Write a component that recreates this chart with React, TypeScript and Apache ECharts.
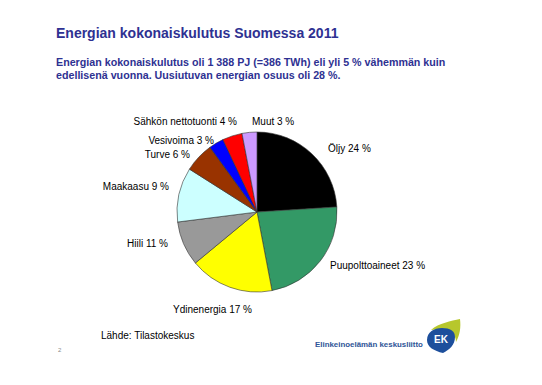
import React, { useEffect, useRef } from "react";
import * as echarts from "echarts";

const categories = [
  "Öljy",
  "Puupolttoaineet",
  "Ydinenergia",
  "Hiili",
  "Maakaasu",
  "Turve",
  "Vesivoima",
  "Sähkön nettotuonti",
  "Muut",
];
// slice sizes as drawn in the picture (%)
const values = [24, 23, 17, 9, 11, 6, 3, 4, 3];
// label percentages as printed in the picture
const labelPercents = [24, 23, 17, 11, 9, 6, 3, 4, 3];
const colors = [
  "#000000",
  "#339966",
  "#FFFF00",
  "#999999",
  "#CCFFFF",
  "#993300",
  "#0000FF",
  "#FF0000",
  "#CC99FF",
];
// label anchors [x, y, align]
const labelAnchors: [number, number, string][] = [
  [328, 148, "left"],
  [330, 265, "left"],
  [173, 309, "left"],
  [168, 243.5, "right"],
  [169, 186, "right"],
  [190, 154.5, "right"],
  [214, 140, "right"],
  [237, 121.5, "right"],
  [252, 121.5, "left"],
];

const titleText = "Energian kokonaiskulutus Suomessa 2011";
const subtitleLines = [
  "Energian kokonaiskulutus oli 1 388 PJ (=386 TWh) eli yli 5 % vähemmän kuin",
  "edellisenä vuonna. Uusiutuvan energian osuus oli 28 %.",
];
const sourceText = "Lähde: Tilastokeskus";
const pageNumber = "2";
const orgName = "Elinkeinoelämän keskusliitto";

echarts.graphic.registerShape(
  "ekGreen",
  echarts.graphic.extendPath(
    "M5,11 C13,4 25,2 34,0 C35,8 34,16 30,23 C30,14 23,8 5,11 Z",
    {}
  )
);
echarts.graphic.registerShape(
  "ekBlue",
  echarts.graphic.extendPath(
    "M1,21 C1,13 8,9 16,9 C24,9 29,12 29,18 C29,26 23,31 17,34 C8,32 1,28 1,21 Z",
    {}
  )
);

export default function App() {
  const ref = useRef<HTMLDivElement>(null);
  useEffect(() => {
    if (!ref.current) return;
    const chart = echarts.init(ref.current, undefined, { renderer: "svg" });
    const font = "Arial, 'Liberation Sans', sans-serif";
    chart.setOption({
      animation: false,
      backgroundColor: "#ffffff",
      graphic: [
        {
          type: "text",
          left: 56,
          top: 26,
          style: {
            text: titleText,
            fill: "#2E3192",
            font: `bold 14px ${font}`,
          },
        },
        {
          type: "text",
          left: 56,
          top: 56,
          style: {
            text: subtitleLines.join("\n"),
            fill: "#2E3192",
            font: `bold 10.7px ${font}`,
            lineHeight: 12.5,
          },
        },
        {
          type: "text",
          left: 101,
          top: 330,
          style: { text: sourceText, fill: "#000", font: `10px ${font}` },
        },
        {
          type: "text",
          left: 58,
          top: 347,
          style: { text: pageNumber, fill: "#888", font: `6px ${font}` },
        },
        {
          type: "text",
          left: 315,
          top: 340,
          style: { text: orgName, fill: "#2F5597", font: `bold 7.9px ${font}` },
        },
        {
          type: "ekGreen",
          x: 426,
          y: 319,
          style: { fill: "#B7C72C" },
        },
        {
          type: "ekBlue",
          x: 426,
          y: 319,
          style: { fill: "#1D4F9C" },
        },
        {
          type: "text",
          x: 441,
          y: 339,
          style: {
            text: "EK",
            fill: "#ffffff",
            font: `bold 10px ${font}`,
            align: "center",
            verticalAlign: "middle",
          },
        },
      ],
      series: [
        {
          type: "pie",
          center: [257, 212],
          radius: 80,
          startAngle: 90,
          clockwise: true,
          avoidLabelOverlap: false,
          itemStyle: { borderColor: "#333", borderWidth: 0.6 },
          label: {
            show: true,
            position: "outside",
            color: "#000",
            fontFamily: font,
            fontSize: 10,
            formatter: (p: any) => `${categories[p.dataIndex]} ${labelPercents[p.dataIndex]} %`,
          },
          labelLine: { show: false },
          labelLayout: (p: any) => {
            const a = labelAnchors[p.dataIndex];
            return { x: a[0], y: a[1], align: a[2], verticalAlign: "middle" };
          },
          emphasis: { disabled: true },
          data: categories.map((name, i) => ({
            name,
            value: values[i],
            itemStyle: { color: colors[i] },
          })),
        },
      ],
    });
    return () => chart.dispose();
  }, []);
  return (
    <div
      ref={ref}
      style={{ position: "fixed", left: 0, top: 0, width: 542, height: 385 }}
    />
  );
}
